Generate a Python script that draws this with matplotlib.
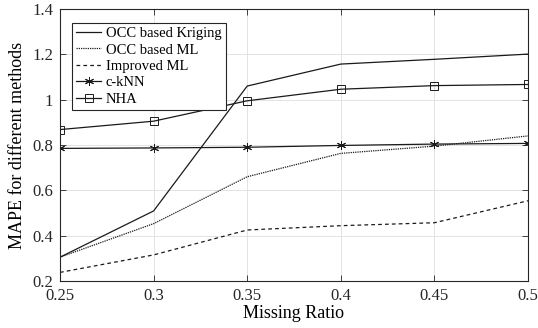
import matplotlib
matplotlib.use("Agg")
import matplotlib.pyplot as plt

plt.rcParams.update({
    "font.family": "Liberation Serif",
    "font.size": 11,
    "axes.linewidth": 0.8,
    "axes.edgecolor": "#262626",
    "xtick.direction": "in",
    "ytick.direction": "in",
    "xtick.top": True,
    "ytick.right": True,
    "xtick.color": "#262626",
    "ytick.color": "#262626",
})

ratio = [0.25, 0.3, 0.35, 0.4, 0.45, 0.5]
occ_kriging = [0.305, 0.509, 1.06, 1.157, 1.178, 1.201]
occ_ml = [0.305, 0.453, 0.66, 0.763, 0.795, 0.84]
improved_ml = [0.238, 0.315, 0.425, 0.444, 0.457, 0.554]
cknn = [0.785, 0.787, 0.79, 0.798, 0.804, 0.807]
nha = [0.868, 0.905, 0.995, 1.046, 1.062, 1.067]

INK = "#1a1a1a"

fig = plt.figure(figsize=(5.38, 3.28), dpi=100)
ax = fig.add_axes([0.1115, 0.1433, 0.8699, 0.8293])

ax.plot(ratio, occ_kriging, color=INK, lw=0.9, label="OCC based Kriging")
ax.plot(ratio, occ_ml, color=INK, lw=0.9, ls=(0, (1, 0.8)), label="OCC based ML")
ax.plot(ratio, improved_ml, color=INK, lw=0.9, ls=(0, (3, 2.5)), label="Improved ML")
ax.plot(ratio, cknn, color=INK, lw=0.9, marker=(6, 2, 0), ms=6.5, mew=0.7,
        label="c-kNN")
ax.plot(ratio, nha, color=INK, lw=0.9, marker="s", ms=6, mew=0.7,
        mfc="none", label="NHA")

ax.set_xlim(0.25, 0.5)
ax.set_ylim(0.2, 1.4)
ax.set_xticks(ratio)
ax.set_xticklabels(["0.25", "0.3", "0.35", "0.4", "0.45", "0.5"])
ax.set_yticks([0.2, 0.4, 0.6, 0.8, 1.0, 1.2, 1.4])
ax.set_yticklabels(["0.2", "0.4", "0.6", "0.8", "1", "1.2", "1.4"])
ax.tick_params(labelsize=12, length=4, width=0.6, pad=5)
ax.grid(color="#dedede", lw=0.6)
ax.set_axisbelow(True)

ax.set_xlabel("Missing Ratio", fontsize=13, labelpad=1)
ax.set_ylabel("MAPE for different methods", fontsize=13, labelpad=4)

leg = ax.legend(loc="upper left", bbox_to_anchor=(71.5 / 538, 1 - 22.5 / 328),
                bbox_transform=fig.transFigure, fontsize=10.5, frameon=True,
                fancybox=False, edgecolor="#262626", framealpha=1,
                handlelength=1.75, handletextpad=0.3, labelspacing=0.22,
                borderpad=0.3, borderaxespad=0)
leg.get_frame().set_linewidth(0.8)

fig.savefig("out.png", dpi=100)
